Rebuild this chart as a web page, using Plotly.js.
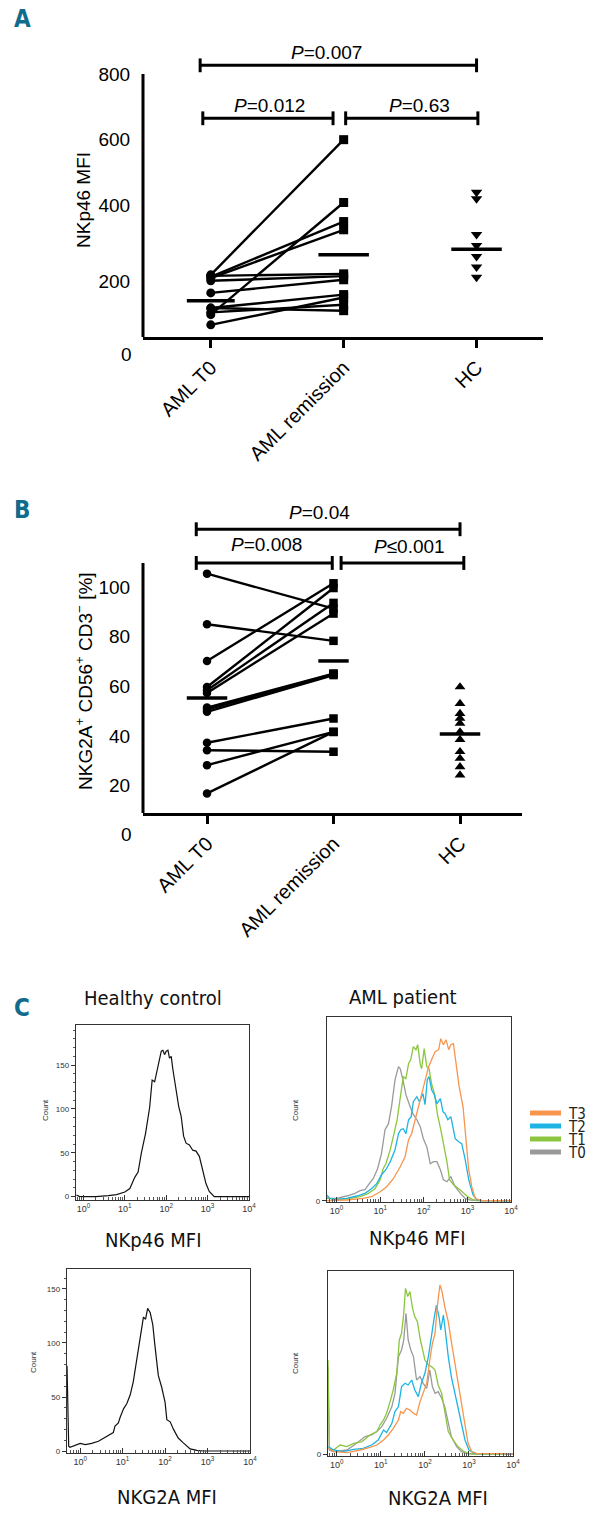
<!DOCTYPE html>
<html><head><meta charset="utf-8">
<script src="https://cdn.plot.ly/plotly-3.0.1.min.js"></script>
<style>html,body{margin:0;padding:0;background:#fff}#chart{width:596px;height:1519px}</style>
</head><body><div id="chart"></div>
<script>
// ---------------- data ----------------
const groupLabels = ['AML T0', 'AML remission', 'HC'];

// Panel A: NKp46 MFI
const nkp46T0  = [189, 183, 179, 186, 171, 134, 68, 88, 75, 37, 88];
const nkp46Rem = [600, 351, 326, 192, 185, 174, 409, 129, 98, 120, 80];
const nkp46HC  = [440, 420, 312, 278, 245, 213, 182];
const nkp46Means = [110, 250, 267];
const pLabelsA = ['<i>P</i>=0.012', '<i>P</i>=0.63', '<i>P</i>=0.007'];
const yTicksA = ['0', '200', '400', '600', '800'];

// Panel B: NKG2A+ CD56+ CD3- [%]
const nkg2aT0  = [105.4, 85, 70.2, 59.7, 58.4, 57.3, 51.4, 50.6, 49.7, 37.2, 34.2, 28.2, 16.8];
const nkg2aRem = [91.3, 78.3, 101.5, 99.6, 93.6, 89.3, 65.1, 65.0, 64.5, 47.0, 33.6, 41.6, 41.6];
const nkg2aHC  = [59.7, 53, 49, 47, 45, 41.6, 38.5, 33.6, 30.9, 27.5, 24.2];
const nkg2aMeans = [55.3, 70.2, 40.7];
const pLabelsB = ['<i>P</i>=0.008', '<i>P</i>\u22640.001', '<i>P</i>=0.04'];
const yTicksB = ['0', '20', '40', '60', '80', '100'];

// Panel C: histograms (MFI, count)
const hcNkp46MFI = [0.676,0.794,1,2,3.98,6.31,10,13.2,17.4,20.9,25.1,31.6,39.8,45.7,52.5,57.5,66.1,75.9,83.2,91.2,100,110,120,132,145,166,200,229,263,302,363,437,525,631,759,912,1096,1445,2512,10000];
const hcNkp46Cnt = [1.9,0.4,0,0,1.1,2.3,5.3,9.2,22,28,50,72,102,133,131,140,150,166,167,162,166,167,158,160,145,126,103,92,69,61,59,53,52,46,29,15,6,0,0,0];

const hcNkg2aMFI = [0.49,0.537,0.575,0.759,1,1.32,1.86,2.69,3.55,4.68,6.03,6.61,7.94,8.71,10.5,12.6,15.1,17.8,21.4,25.7,30.9,34.7,38.9,44.7,51.3,57.5,69.2,83.2,100,110,132,158,204,269,389,562,794,10000];
const hcNkg2aCnt = [79,4.5,3.5,5,7,6,7,9,12,15,17,23,26,31,39,44,52,64,83,106,124,122,132,128,117,98,70,59,45,29,27,20,12,7.5,2,0.6,0,0];

const timeLabels = ['T3', 'T2', 'T1', 'T0'];
const timeColors = ['#F7954E', '#1DB4E4', '#8CC63F', '#9A9A9A'];

const amlNkp46MFI = [
  [0.589,1.70,4.07,6.31,10,14.1,20.0,28.8,37.2,44.7,52.5,69.2,89.1,107,129,151,182,219,245,282,324,372,417,479,550,646,794,891,1072,1259,1514,1995,10000],
  [0.589,0.708,1,1.70,2.88,4.47,6.31,8.32,10.7,13.5,17.0,21.9,26.3,29.5,33.9,38.9,44.7,51.3,57.5,69.2,79.4,95.5,107,120,132,151,174,200,240,275,309,355,417,468,525,631,741,891,1072,1349,1660,2344,10000],
  [0.589,0.832,1.70,3.47,5.37,7.59,10,11.7,13.5,17.0,20.0,24.5,29.5,33.9,38.9,44.7,50.1,57.5,66.1,72.4,83.2,89.1,102,117,132,151,178,204,245,282,339,389,479,631,813,1072,1380,1995,10000],
  [0.589,1,1.70,2.63,3.47,4.47,5.62,6.92,8.71,10.7,12.9,15.5,18.2,21.9,26.3,28.8,33.1,38.9,46.8,56.2,69.2,83.2,97.7,117,141,166,200,240,282,339,417,525,692,891,1175,1660,10000]
];
const amlNkp46Cnt = [
  [0,0.7,2.3,4,9,14,22,34,44,61,67,87,107,121,134,141,149,151,162,156,161,151,156,157,137,114,94,71,31,14,2.3,0,0],
  [5.7,2.3,1.3,2.3,4.7,7.3,12,17,26,31,39,51,67,71,72,67,81,84,99,104,99,107,96,121,124,111,106,97,102,89,87,81,84,74,62,59,57,41,21,5.7,0.7,0,0],
  [3.3,1.3,1.7,4,7.3,12,21,32,37,51,64,81,106,124,122,137,141,154,151,156,136,132,152,134,132,117,106,87,71,57,39,21,16,12,8,3.3,0.7,0,0],
  [2.3,2.3,4.7,7.3,10,11,17,22,32,47,71,77,94,121,134,132,121,106,96,87,81,74,62,54,37,39,39,31,21,19,24,14,7.3,2.3,0.7,0,0]
];
const amlNkg2aMFI = [
  [0.646,0.841,1.70,3.39,5.62,8.13,11.5,14.8,19.1,25.1,28.2,32.4,38.0,45.7,55.0,64.6,77.6,91.2,110,129,148,170,191,219,245,282,339,398,479,562,676,813,955,1148,1479,10000],
  [0.646,0.841,1.41,2.40,3.98,6.17,8.71,11.5,13.5,17.8,20.9,25.1,29.5,35.5,41.7,50.1,58.9,70.8,83.2,100,120,141,162,182,209,229,263,295,339,398,479,562,676,813,1000,1349,10000],
  [0.631,0.676,0.841,1.19,1.70,2.40,3.72,5.62,8.13,9.55,11.5,13.5,16.2,19.1,22.9,26.3,29.5,33.1,36.3,40.7,45.7,52.5,58.9,67.6,77.6,89.1,100,120,141,170,200,240,282,339,437,562,741,955,1230,10000],
  [0.631,0.676,0.841,1.70,2.82,4.37,6.17,8.13,10.5,13.5,17.8,20.9,25.1,29.5,33.1,37.2,41.7,47.9,55.0,64.6,77.6,91.2,110,129,148,170,200,240,282,339,398,525,676,871,1230,10000]
];
const amlNkg2aCnt = [
  [6,2.7,1.7,4.3,7,9.3,14.3,19.3,26,34.3,42.7,41,46,44.3,41,39.3,52.7,61,71,94.3,111,121,147.7,169.3,162.7,147.7,132.7,112.7,91,71,47.7,27.7,11,2.7,1,0.3],
  [7.7,4.3,2.7,5,6,9.3,14.3,24.3,21.7,31,42.7,47.7,67.7,71,69.3,74.3,64.3,57.7,71,81,97.7,121,136,149,137.7,124.3,139.3,121,97.7,77.7,61,44.3,27.7,14.3,4.3,1,0.3],
  [94.3,6,4.3,9.3,7.7,11,12.7,19.3,22.7,29.3,34.3,41,52.7,64.3,81,114.3,121,141,166,157.7,162.7,146,137.7,132.7,116,104.3,94.3,89.3,87.7,84.3,69.3,61,41,22.7,14.3,7.7,3.3,1,0.3,0.3],
  [87.7,4.3,2.7,4.3,11,17.7,19.3,22.7,27.7,36,47.7,61,97.7,104.3,114.3,141,114.3,104.3,97.7,74.3,77.7,71,66,84.3,67.7,61,62.7,56,47.7,31,17.7,7.7,2.7,1,0.3,0.3]
];
const logTickText = ['10<sup>0</sup>','10<sup>1</sup>','10<sup>2</sup>','10<sup>3</sup>','10<sup>4</sup>'];

// ---------------- layout helpers ----------------
const W = 596, H = 1519;
const fx = v => v / W;
const fy = v => 1 - v / H;
const FONT = 'Liberation Sans, Arial, sans-serif';
const NARROW = 'Liberation Sans Narrow, Arial Narrow, DejaVu Sans Condensed, Liberation Sans, sans-serif';
const TEAL = '#106B8C';

const traces = [];
const shapes = [];
const annotations = [];

function txt(xref, yref, x, y, text, font, extra) {
  annotations.push(Object.assign({xref:xref, yref:yref, x:x, y:y, text:text, showarrow:false,
    xanchor:'center', yanchor:'middle', font:font}, extra || {}));
}
const big = {family:FONT, size:19, color:'#000'};

function scatterPanel(xa, ya, t0, rem, hc, means, hcSymbol, msz, halfW) {
  const lx = [], ly = [];
  t0.forEach((v, i) => { lx.push(0, 1, null); ly.push(v, rem[i], null); });
  traces.push({type:'scatter', mode:'lines', x:lx, y:ly, xaxis:xa, yaxis:ya,
    line:{color:'#000', width:2.4}, hoverinfo:'skip', cliponaxis:false});
  traces.push({type:'scatter', mode:'markers', x:t0.map(() => 0), y:t0, xaxis:xa, yaxis:ya,
    marker:{symbol:'circle', size:msz, color:'#000'}, cliponaxis:false});
  traces.push({type:'scatter', mode:'markers', x:rem.map(() => 1), y:rem, xaxis:xa, yaxis:ya,
    marker:{symbol:'square', size:msz, color:'#000'}, cliponaxis:false});
  traces.push({type:'scatter', mode:'markers', x:hc.map(() => 2), y:hc, xaxis:xa, yaxis:ya,
    marker:{symbol:hcSymbol, size:msz + 1, color:'#000'}, cliponaxis:false});
  const mx = [], my = [];
  means.forEach((m, i) => { mx.push(i - halfW[i], i + halfW[i], null); my.push(m, m, null); });
  traces.push({type:'scatter', mode:'lines', x:mx, y:my, xaxis:xa, yaxis:ya,
    line:{color:'#000', width:3.5}, hoverinfo:'skip', cliponaxis:false});
}

function bracket(xr, yr, x0, x1, y, cap) {
  const ln = {color:'#000', width:3};
  shapes.push({type:'line', xref:xr, yref:yr, x0:x0, x1:x1, y0:y, y1:y, line:ln});
  shapes.push({type:'line', xref:xr, yref:yr, x0:x0, x1:x0, y0:y - cap, y1:y + cap, line:ln});
  shapes.push({type:'line', xref:xr, yref:yr, x0:x1, x1:x1, y0:y - cap, y1:y + cap, line:ln});
}

// ---------------- Panel A ----------------
scatterPanel('x', 'y', nkp46T0, nkp46Rem, nkp46HC, nkp46Means, 'triangle-down', 9, [0.18, 0.19, 0.19]);
shapes.push({type:'line', xref:'x domain', yref:'y', x0:0, x1:0, y0:0, y1:800, line:{color:'#000', width:3}});
bracket('x', 'y', -0.06, 0.92, 665, 21);
bracket('x', 'y', 1.015, 2.01, 665, 21);
bracket('x', 'y', -0.08, 2.0, 826, 21);
txt('x', 'y', 0.44, 705, pLabelsA[0], big);
txt('x', 'y', 1.57, 705, pLabelsA[1], big);
txt('x', 'y', 0.87, 866, pLabelsA[2], big);
txt('paper', 'paper', fx(134), fy(354), yTicksA[0], big, {xanchor:'right'});
txt('paper', 'paper', fx(84), fy(200), 'NKp46 MFI', big, {textangle:-90});
txt('paper', 'paper', fx(22), fy(19), '<b>A</b>', {family:NARROW, size:24, color:TEAL});

// ---------------- Panel B ----------------
scatterPanel('x2', 'y3', nkg2aT0, nkg2aRem, nkg2aHC, nkg2aMeans, 'triangle-up', 8.5, [0.16, 0.12, 0.16]);
shapes.push({type:'line', xref:'x2 domain', yref:'y3', x0:0, x1:0, y0:8.9, y1:109.7, line:{color:'#000', width:3}});
bracket('x2', 'y3', -0.085, 0.99, 109.7, 2.8);
bracket('x2', 'y3', 1.06, 2.03, 109.7, 2.8);
bracket('x2', 'y3', -0.085, 2.0, 123.3, 2.8);
txt('x2', 'y3', 0.47, 117, pLabelsB[0], big);
txt('x2', 'y3', 1.6, 116.5, pLabelsB[1], big);
txt('x2', 'y3', 0.89, 130, pLabelsB[2], big);
txt('paper', 'paper', fx(134), fy(835), yTicksB[0], big, {xanchor:'right'});
txt('paper', 'paper', fx(84), fy(681), 'NKG2A<sup>+</sup> CD56<sup>+</sup> CD3<sup>\u2212</sup> [%]', big, {textangle:-90});
txt('paper', 'paper', fx(22), fy(510), '<b>B</b>', {family:NARROW, size:24, color:TEAL});

// ---------------- Panel C ----------------
traces.push({type:'scatter', mode:'lines', x:hcNkp46MFI, y:hcNkp46Cnt, xaxis:'x3', yaxis:'y5', line:{color:'#111', width:1.2}, hoverinfo:'skip'});
traces.push({type:'scatter', mode:'lines', x:hcNkg2aMFI, y:hcNkg2aCnt, xaxis:'x5', yaxis:'y7', line:{color:'#111', width:1.2}, hoverinfo:'skip'});
for (let k = 3; k >= 0; k--) {
  traces.push({type:'scatter', mode:'lines', x:amlNkp46MFI[k], y:amlNkp46Cnt[k], xaxis:'x4', yaxis:'y6', line:{color:timeColors[k], width:1.3}, hoverinfo:'skip'});
  traces.push({type:'scatter', mode:'lines', x:amlNkg2aMFI[k], y:amlNkg2aCnt[k], xaxis:'x6', yaxis:'y8', line:{color:timeColors[k], width:1.3}, hoverinfo:'skip'});
}
// legend drawn as swatches + text
const legY = [1113, 1126, 1139, 1152];
timeLabels.forEach((t, k) => {
  shapes.push({type:'line', xref:'paper', yref:'paper', x0:fx(530), x1:fx(561), y0:fy(legY[k]), y1:fy(legY[k]), line:{color:timeColors[k], width:5}});
  txt('paper', 'paper', fx(566), fy(legY[k] + 1), t, {family:NARROW, size:15, color:'#222'}, {xanchor:'left'});
});
txt('paper', 'paper', fx(22), fy(1008), '<b>C</b>', {family:NARROW, size:24, color:TEAL});
const ctitle = {family:NARROW, size:20, color:'#111'};
txt('paper', 'paper', fx(153), fy(998), 'Healthy control', ctitle);
txt('paper', 'paper', fx(403), fy(997), 'AML patient', ctitle);
txt('paper', 'paper', fx(153), fy(1240), 'NKp46 MFI', ctitle);
txt('paper', 'paper', fx(417), fy(1238), 'NKp46 MFI', ctitle);
txt('paper', 'paper', fx(167), fy(1497), 'NKG2A MFI', ctitle);
txt('paper', 'paper', fx(438), fy(1498), 'NKG2A MFI', ctitle);
const cnt = {family:FONT, size:8, color:'#333'};
txt('paper', 'paper', fx(45), fy(1110), 'Count', cnt, {textangle:-90});
txt('paper', 'paper', fx(295), fy(1110), 'Count', cnt, {textangle:-90});
txt('paper', 'paper', fx(33), fy(1362), 'Count', cnt, {textangle:-90});
txt('paper', 'paper', fx(295), fy(1363), 'Count', cnt, {textangle:-90});

// ---------------- axes ----------------
const catX = (dom, rng, anchor) => ({
  domain:dom, range:rng, anchor:anchor, tickvals:[0, 1, 2], ticktext:groupLabels, tickangle:-45,
  showline:true, linewidth:3, linecolor:'#000', ticks:'outside', ticklen:8, tickwidth:3, tickcolor:'#000',
  showgrid:false, zeroline:false, tickfont:{family:FONT, size:20, color:'#000'}, fixedrange:true
});
const labelY = (dom, rng, anchor, vals, text) => ({
  domain:dom, range:rng, anchor:anchor, tickvals:vals, ticktext:text, ticks:'outside', ticklen:8,
  tickcolor:'rgba(0,0,0,0)', showline:false, showgrid:false, zeroline:false,
  tickfont:{family:FONT, size:19, color:'#000'}
});
const markY = (over, rng, anchor, vals) => ({
  overlaying:over, range:rng, anchor:anchor, tickvals:vals, ticks:'outside', ticklen:8, tickwidth:3,
  tickcolor:'#000', showticklabels:false, showline:false, showgrid:false, zeroline:false
});
const logX = (dom, rng, anchor) => ({
  domain:dom, type:'log', range:rng, anchor:anchor, tickvals:[1, 10, 100, 1000, 10000], ticktext:logTickText,
  ticks:'inside', ticklen:5, tickwidth:1, tickcolor:'#333', showline:true, mirror:true, linecolor:'#333', linewidth:1.3,
  showgrid:false, zeroline:false, tickfont:{family:FONT, size:9, color:'#333'},
  minor:{ticks:'inside', ticklen:3, tickcolor:'#555', tickwidth:1, dtick:'D1', showgrid:false}
});
const histY = (dom, rng, anchor, vals, withMinor) => {
  const a = {domain:dom, range:rng, anchor:anchor, tickvals:vals, ticktext:vals.map(String),
    ticks:'outside', ticklen:4, tickwidth:1, tickcolor:'#333', showline:true, mirror:true, linecolor:'#333', linewidth:1.3,
    showgrid:false, zeroline:false, tickfont:{family:FONT, size:8, color:'#333'}};
  if (withMinor) a.minor = {ticks:'outside', ticklen:2, tickcolor:'#555', dtick:10, showgrid:false};
  return a;
};

const layout = {
  width:W, height:H, margin:{l:0, r:0, t:0, b:0}, paper_bgcolor:'#fff', plot_bgcolor:'rgba(0,0,0,0)',
  showlegend:false, font:{family:FONT, color:'#000'},
  xaxis: catX([fx(143), fx(543)], [-0.51, 2.5], 'y'),
  yaxis: labelY([fy(337), fy(41)], [0, 900], 'x', [169, 400, 600, 800], yTicksA.slice(1)),
  yaxis2: markY('y', [0, 900], 'x', [200, 400, 600, 800]),
  xaxis2: catX([fx(143), fx(522)], [-0.506, 2.49], 'y3'),
  yaxis3: labelY([fy(813), fy(495)], [8.9, 137.1], 'x2', [20, 40, 60, 80, 100], yTicksB.slice(1)),
  yaxis4: markY('y3', [8.9, 137.1], 'x2', [29, 49.2, 69.4, 89.5, 109.7]),
  xaxis3: logX([fx(76), fx(249)], [-0.18, 4.0], 'y5'),
  yaxis5: histY([fy(1200), fy(1025)], [-3.8, 195.8], 'x3', [0, 50, 100, 150], true),
  xaxis4: logX([fx(327), fx(511)], [-0.22, 4.0], 'y6'),
  yaxis6: histY([fy(1202), fy(1017)], [-1.3, 183.7], 'x4', [0], false),
  xaxis5: logX([fx(67), fx(250)], [-0.31, 4.0], 'y7'),
  yaxis7: histY([fy(1453), fy(1269)], [-1.85, 168.5], 'x5', [0, 50, 100, 150], true),
  xaxis6: logX([fx(328), fx(513)], [-0.2, 4.0], 'y8'),
  yaxis8: histY([fy(1456), fy(1271)], [-1.7, 183.3], 'x6', [0], false),
  shapes:shapes, annotations:annotations
};

Plotly.newPlot('chart', traces, layout, {staticPlot:true, displayModeBar:false});
</script></body></html>
